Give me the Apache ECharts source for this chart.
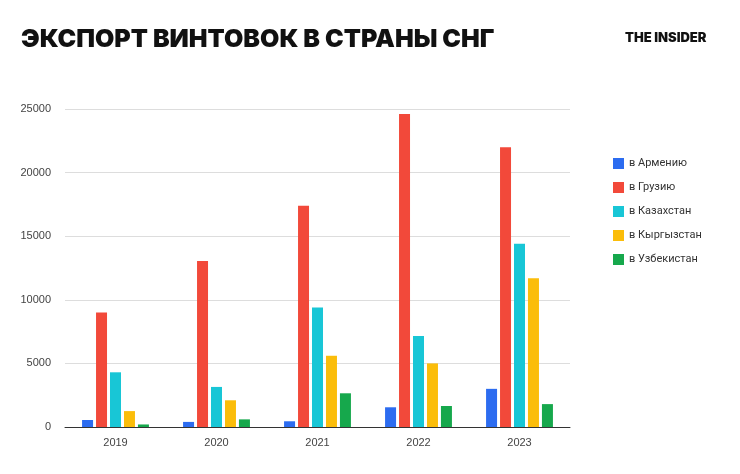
<!DOCTYPE html><html><head><meta charset="utf-8"><script src="https://cdn.jsdelivr.net/npm/echarts@6/dist/echarts.min.js"></script></head><body style="margin:0;background:#fff"><div id="c" style="width:740px;height:474px"></div><script>
const years=['2019','2020','2021','2022','2023'];
const armenia=[550,400,450,1550,3000];
const georgia=[9000,13050,17400,24600,22000];
const kazakhstan=[4300,3150,9400,7150,14400];
const kyrgyzstan=[1250,2100,5600,5000,11700];
const uzbekistan=[200,600,2650,1650,1800];
const names=['в Армению','в Грузию','в Казахстан','в Кыргызстан','в Узбекистан'];
const colors=['#2c6cf0','#f2493a','#18c6d6','#fbbd0a','#16a84c'];
const data=[armenia,georgia,kazakhstan,kyrgyzstan,uzbekistan];
const ch=echarts.init(document.getElementById('c'));
ch.setOption({
 animation:false,color:colors,
 title:[{text:'ЭКСПОРТ ВИНТОВОК В СТРАНЫ СНГ',left:16,top:22,textStyle:{fontFamily:'Inter',fontWeight:900,fontSize:25,color:'#111'}},
 {text:'THE INSIDER',left:620,top:27,textStyle:{fontFamily:'Inter',fontWeight:900,fontSize:13,color:'#111'}}],
 legend:{orient:'vertical',left:608,top:153,itemWidth:11,itemHeight:11,itemGap:13,icon:'rect',textStyle:{fontFamily:'Roboto',fontSize:11,color:'#333'}},
 grid:{left:65,right:170,top:109,bottom:47},
 xAxis:{type:'category',data:years,axisTick:{show:false},axisLine:{lineStyle:{color:'#333'}},axisLabel:{color:'#444',fontSize:11,margin:10}},
 yAxis:{type:'value',min:0,max:25000,interval:5000,axisLabel:{color:'#444',fontSize:11,margin:14,formatter:v=>String(v)},splitLine:{lineStyle:{color:'#ddd'}}},
 series:names.map((n,i)=>({name:n,type:'bar',data:data[i],barWidth:11,barGap:'27%'}))
});
</script></body></html>
